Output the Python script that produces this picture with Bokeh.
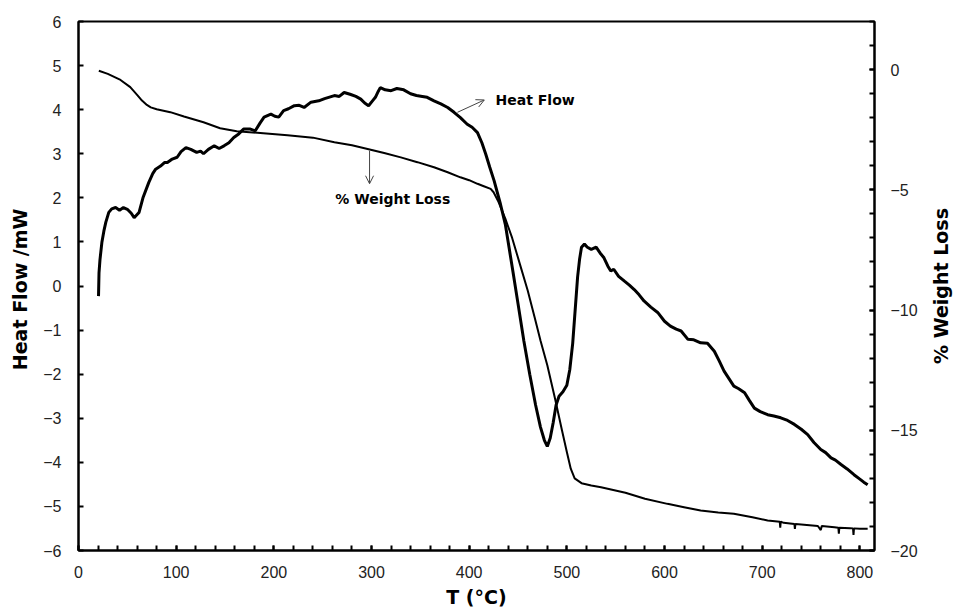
import math
from bokeh.plotting import figure
from bokeh.layouts import row
from bokeh.models import (Range1d, LinearAxis, SingleIntervalTicker, Arrow, OpenHead,
                          ColumnDataSource)
from bokeh.core.properties import value
from bokeh.embed import file_html
from bokeh.resources import INLINE

# ---- data ----
hf_T = [20.5, 21, 22, 24, 26, 28, 31, 34, 38, 42, 46, 50, 54, 57, 60, 62, 66, 72, 76, 79, 84, 88, 91, 96,
        101, 105, 110, 115, 121, 125, 128, 133, 139, 144, 149, 154, 159, 164, 169, 176, 181, 186, 190,
        197, 201, 205, 210, 215, 221, 226, 231, 238, 246, 252, 262, 267, 272, 278, 284, 289, 293, 297,
        301, 304, 307, 309, 314, 320, 326, 333, 340, 346, 352, 357, 364, 371, 378, 384.5, 391, 398, 403,
        408.5, 413, 417, 421, 425.5, 432, 437, 441, 445, 450, 456, 462, 468, 473, 477, 480, 483, 486,
        489, 492, 496, 500, 503, 506, 509, 511, 513, 515, 518, 521, 525, 530, 534, 538, 542, 545, 548,
        553, 559, 564, 569, 574, 579, 586, 593, 600, 606, 612, 617, 624, 630, 637, 644, 651, 656, 661,
        666, 671, 676, 682, 687, 692, 698, 705.6, 712, 719, 726, 733, 740, 746.6, 753, 760, 765, 770.5,
        775, 780.7, 787, 794, 800, 804, 808]
hf_val = [-0.23, 0.3, 0.6, 1.0, 1.25, 1.45, 1.67, 1.75, 1.78, 1.72, 1.78, 1.74, 1.65, 1.55, 1.62, 1.67,
          2.0, 2.35, 2.55, 2.65, 2.72, 2.8, 2.8, 2.88, 2.92, 3.05, 3.14, 3.1, 3.03, 3.06, 3.0, 3.1, 3.18,
          3.12, 3.18, 3.25, 3.37, 3.45, 3.56, 3.56, 3.52, 3.7, 3.83, 3.9, 3.85, 3.83, 3.98, 4.02, 4.09,
          4.1, 4.05, 4.17, 4.2, 4.25, 4.32, 4.3, 4.39, 4.35, 4.3, 4.24, 4.15, 4.09, 4.2, 4.28, 4.42, 4.5,
          4.45, 4.43, 4.48, 4.45, 4.36, 4.32, 4.3, 4.28, 4.2, 4.13, 4.05, 3.94, 3.82, 3.67, 3.6, 3.48,
          3.25, 2.99, 2.7, 2.39, 1.86, 1.4, 0.85, 0.3, -0.4, -1.25, -2.0, -2.7, -3.2, -3.5, -3.64, -3.45,
          -3.1, -2.7, -2.5, -2.4, -2.25, -1.9, -1.3, -0.4, 0.2, 0.6, 0.88, 0.95, 0.88, 0.83, 0.88, 0.75,
          0.64, 0.45, 0.34, 0.38, 0.22, 0.11, 0.02, -0.08, -0.2, -0.34, -0.48, -0.6, -0.8, -0.91, -0.98,
          -1.02, -1.21, -1.22, -1.29, -1.3, -1.48, -1.7, -1.93, -2.1, -2.27, -2.33, -2.42, -2.6, -2.77,
          -2.85, -2.92, -2.95, -2.99, -3.05, -3.14, -3.25, -3.37, -3.55, -3.71, -3.78, -3.9, -3.95, -4.05,
          -4.15, -4.28, -4.38, -4.45, -4.51]

wl_T = [20.8, 30, 43, 53, 60, 65, 70, 74, 80, 94, 108, 128, 145, 162, 183, 214, 240, 262, 280, 296, 313,
        330, 347, 364, 378, 391, 400, 408.5, 415, 422, 425, 430, 437, 444, 452, 460, 467, 473, 480, 488,
        495, 500, 504, 508, 515, 525, 535, 560, 580, 603, 620, 637, 655, 671, 690, 705.6, 718, 718.5,
        719, 722, 733, 733.5, 734, 740, 757, 760, 761, 774, 778, 778.5, 779, 790, 793, 793.5, 794, 800, 808]
wl_val = [-0.05, -0.18, -0.43, -0.73, -1.05, -1.29, -1.47, -1.57, -1.65, -1.77, -1.95, -2.19, -2.44, -2.56,
          -2.63, -2.73, -2.83, -3.02, -3.15, -3.30, -3.47, -3.65, -3.85, -4.06, -4.27, -4.48, -4.6, -4.75,
          -4.85, -4.96, -5.1, -5.5, -6.2, -7.0, -8.1, -9.2, -10.3, -11.27, -12.3, -13.7, -15.0, -15.9,
          -16.6, -17.0, -17.2, -17.3, -17.37, -17.6, -17.85, -18.06, -18.2, -18.34, -18.42, -18.47,
          -18.62, -18.75, -18.8, -19.05, -18.8, -18.85, -18.9, -19.1, -18.9, -18.92, -18.98, -19.15,
          -18.98, -19.03, -19.05, -19.3, -19.05, -19.07, -19.08, -19.35, -19.08, -19.1, -19.1]

x_title = "T (°C)"
y_title = "Heat Flow  /mW"
y2_title = "% Weight Loss"
hf_label = "Heat Flow"
wl_label = "% Weight Loss"
hf_label_pos = (427, 4.23)
wl_label_pos = (263, 1.98)
hf_arrow = (388, 3.94, 415.5, 4.22)
wl_arrow = (298, 3.07, 298, 2.32)

TICK_FONT = "Liberation Sans"
TITLE_FONT = "DejaVu Sans"
MAIN_W, SIDE_W, H = 925, 30, 615

p = figure(width=MAIN_W, height=H, x_range=Range1d(0, 815), y_range=Range1d(-6, 6),
           output_backend="svg", toolbar_location=None,
           min_border_left=78, min_border_right=51, min_border_top=21, min_border_bottom=65)
p.extra_y_ranges = {"wl": Range1d(-20, 2)}

p.xgrid.visible = False
p.ygrid.visible = False
p.outline_line_color = "black"
p.outline_line_width = 2
p.background_fill_color = "white"
p.border_fill_color = "white"

def style_axis(ax, label, standoff_lbl, standoff_title):
    if label:
        ax.axis_label = label
    ax.axis_label_text_font = TITLE_FONT
    ax.axis_label_text_font_style = "bold"
    ax.axis_label_text_font_size = "19px"
    ax.axis_label_text_color = "black"
    ax.axis_label_standoff = standoff_title
    ax.major_label_text_font = TICK_FONT
    ax.major_label_text_font_size = "16px"
    ax.major_label_text_color = "#222222"
    ax.major_label_standoff = standoff_lbl
    ax.axis_line_color = "black"
    ax.axis_line_width = 2
    ax.major_tick_line_color = "black"
    ax.minor_tick_line_color = "black"
    ax.major_tick_line_width = 2
    ax.minor_tick_line_width = 2
    ax.major_tick_in = 5
    ax.major_tick_out = 0
    ax.minor_tick_in = 5
    ax.minor_tick_out = 0

xax = p.xaxis[0]
xax.ticker = SingleIntervalTicker(interval=100, num_minor_ticks=5)
style_axis(xax, x_title, 15, 5)

yax = p.yaxis[0]
yax.ticker = SingleIntervalTicker(interval=1, num_minor_ticks=0)
style_axis(yax, y_title, 17, 9)

y2 = LinearAxis(y_range_name="wl", ticker=SingleIntervalTicker(interval=5, num_minor_ticks=5))
style_axis(y2, None, 16, 13)
p.add_layout(y2, "right")

p.line(hf_T, hf_val, line_color="black", line_width=3)
p.line(wl_T, wl_val, line_color="black", line_width=2, y_range_name="wl")

src = ColumnDataSource(dict(x=[hf_label_pos[0], wl_label_pos[0]],
                            y=[hf_label_pos[1], wl_label_pos[1]],
                            t=[hf_label, wl_label]))
p.text(x="x", y="y", text="t", source=src, text_font=value(TITLE_FONT), text_font_style="bold",
       text_font_size="14px", text_baseline="middle", text_align="left", text_color="black")

for (x0, y0, x1, y1) in (hf_arrow, wl_arrow):
    p.add_layout(Arrow(x_start=x0, y_start=y0, x_end=x1, y_end=y1, line_color="#444444", line_width=1,
                       end=OpenHead(size=8, line_color="#444444", line_width=1)))

# narrow side strip carrying the right-axis title, reading bottom-to-top
side = figure(width=SIDE_W, height=H, x_range=Range1d(0, 1), y_range=Range1d(-6, 6),
              output_backend="svg", toolbar_location=None,
              min_border_left=0, min_border_right=0, min_border_top=21, min_border_bottom=65)
side.axis.visible = False
side.xgrid.visible = False
side.ygrid.visible = False
side.outline_line_color = None
side.background_fill_color = "white"
side.border_fill_color = "white"
side.text(x=[0.5], y=[0], text=[y2_title], angle=math.pi / 2, text_font=value(TITLE_FONT),
          text_font_style="bold", text_font_size="19px", text_align="center",
          text_baseline="middle", text_color="black")

layout = row(p, side, spacing=0)
open("out.html", "w").write(file_html(layout, INLINE))
